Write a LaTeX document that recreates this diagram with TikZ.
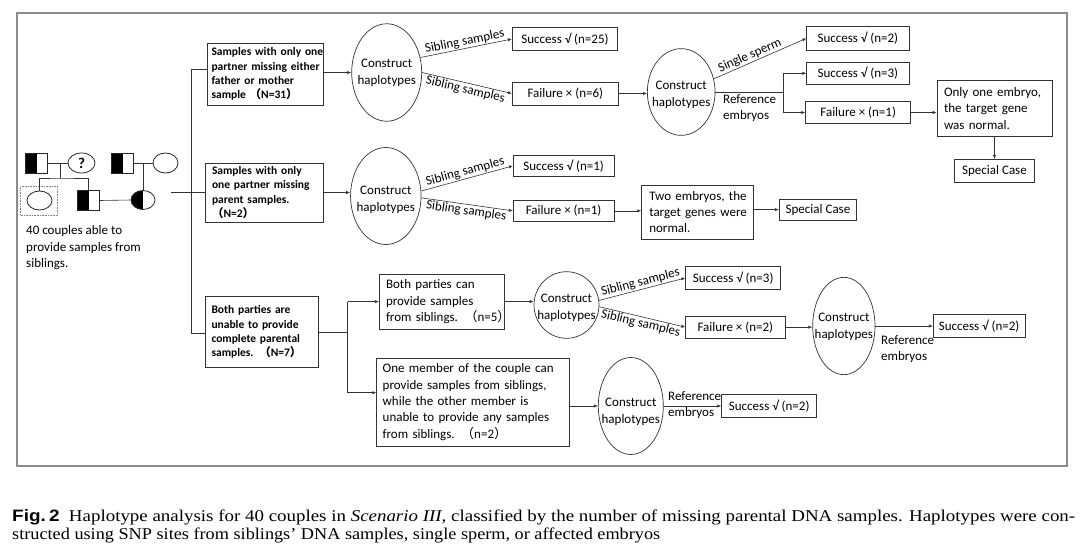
\documentclass[tikz,border=0pt]{standalone}
\usepackage{fontspec}
\usepackage{graphicx}
\setmainfont{Carlito}
\newfontfamily\cjk{Noto Sans CJK SC}
\newfontfamily\capfont{Liberation Serif}
\newfontfamily\capsans{Liberation Sans}
\usetikzlibrary{shapes.geometric,arrows.meta,calc}
\newcommand{\lp}{{\cjk （}}
\newcommand{\rp}{{\cjk ）}}
\begin{document}
\begin{tikzpicture}[x=1pt,y=-1pt,
  ln/.style={line width=0.6pt, draw=black!80},
  arr/.style={ln, -{Latex[length=4pt,width=3.2pt]}},
  bx/.style 2 args={draw=black!80, line width=0.7pt, rectangle, minimum width=#1, minimum height=#2, inner sep=0pt, font=\fontsize{13}{16.3}\selectfont},
  bb/.style 2 args={draw=black!80, line width=0.7pt, rectangle, minimum width=#1, minimum height=#2, inner sep=0pt, font=\fontsize{11.5}{14.2}\selectfont\bfseries},
  tw/.style={align=left, text width=#1},
  el/.style 2 args={draw=black!80, line width=0.7pt, ellipse, minimum width=#1, minimum height=#2, inner sep=0pt},
  etx/.style={align=center, inner sep=0pt, font=\fontsize{13}{16.7}\selectfont},
  lab/.style={font=\fontsize{13}{16.5}\selectfont, inner sep=1pt},
  sq/.style={draw=black!85, line width=0.8pt, rectangle, minimum width=22, minimum height=20, inner sep=0pt,
     path picture={\fill[black] (path picture bounding box.south west) rectangle (path picture bounding box.north);}},
  ci/.style={draw=black!85, line width=0.8pt, ellipse, minimum width=25, minimum height=20, inner sep=0pt},
  hci/.style={ci, path picture={\fill[black] (path picture bounding box.south west) rectangle (path picture bounding box.north);}}
]
\useasboundingbox (0,0) rectangle (1080,552);
\fill[white] (0,0) rectangle (1080,552);

% frame
\draw[draw=black!45, line width=1.4pt] (17,13) rectangle (1067,466);

% ---------------- pedigree
\node[sq] (s1) at (36.5,163) {};
\node[ci, minimum width=27] (q) at (81.5,163) {\fontsize{15}{15}\selectfont\bfseries ?};
\node[sq] (s3) at (122.5,163) {};
\node[ci] (c4) at (165.5,163) {};
\node[ci, minimum height=19] (ch) at (39.5,200.5) {};
\node[sq] (s2) at (88.5,200.5) {};
\node[hci, minimum width=24, minimum height=19] (hc) at (143,200) {};
\node[draw=black!50, densely dotted, line width=0.6pt, minimum width=37, minimum height=28.3, inner sep=0pt] (dr) at (39.2,200.85) {};
\draw[ln] (s1.east) -- (q.west);
\coordinate (m1) at (60,163);
\coordinate (j1) at (60,178);
\draw[ln] (m1) -- (j1);
\draw[ln] (ch.north) |- (j1) -| (s2.north);
\draw[ln] (s3.east) -- (c4.west);
\coordinate (m2) at (143,163);
\draw[ln] (m2) -- (hc.north);
\draw[ln] (s2.east) -- (hc.west);
\node[anchor=west, align=left, inner sep=0pt, font=\fontsize{13}{16.5}\selectfont] (ptext) at (26,247.7)
  {40 couples able to\\provide samples from\\siblings.};

% ---------------- category boxes
\node[bb={116}{62}, tw=108] (box1) at (265.5,74)
  {\mbox{Samples with only one}\\\mbox{partner missing either}\\\mbox{father or mother}\\\mbox{sample \lp N=31\rp}};
\node[bb={118.5}{59}, tw=104.5] (box2) at (264.25,192.5)
  {\mbox{Samples with only}\\\mbox{one partner missing}\\\mbox{parent samples.}\\\mbox{\lp N=2\rp}};
\node[bb={113.5}{70.6}, tw=100.5] (box3) at (261.75,332)
  {\mbox{Both parties are}\\\mbox{unable to provide}\\\mbox{complete parental}\\\mbox{samples. \lp N=7\rp}};

% trunk
\coordinate (tt) at (191,69);
\coordinate (tb) at (191,333);
\coordinate (tm) at (171,192.5);
\draw[ln] (tt -| box1.west) -- (tt) -- (tb) -- (tb -| box3.west);
\draw[ln] (tm) -- (tm -| box2.west);

% ---------------- row 1
\node[el={70}{97.5}] (e1) at (386.7,72.5) {};
\node[etx] (e1t) at ($(e1)+(0,0.5)$) {Construct\\haplotypes};
\draw[arr] (box1.east |- e1.west) -- (e1.west);
\node[bx={105.4}{23.4}] (s25) at (565,39) {Success √ (n=25)};
\node[bx={106}{22.7}] (f6) at (565.3,93.5) {Failure × (n=6)};
\draw[arr] (e1.24) -- node[lab, sloped, above] {Sibling samples} (s25.west);
\draw[arr] (e1.east) -- node[lab, sloped, below] {Sibling samples} (f6.west);
\node[el={67.7}{86.7}] (e2) at (681.2,92) {};
\node[etx] (e2t) at ($(e2)+(0,3)$) {Construct\\haplotypes};
\draw[arr] (f6.east) -- (f6.east -| e2.west);
\node[bx={102.3}{23.3}] (sn2) at (857.85,38.35) {Success √ (n=2)};
\node[bx={102.3}{22}] (sn3) at (857.85,73.3) {Success √ (n=3)};
\node[bx={105}{22.6}] (fn1) at (858.2,112.5) {Failure × (n=1)};
\draw[arr] (e2.22) -- node[lab, sloped, above, pos=0.42] {Single sperm} (sn2.west);
\coordinate (b2) at (783.3,92);
\draw[ln] (e2.east) -- (b2);
\draw[ln] (b2 |- sn3.west) -- (b2 |- fn1.west);
\draw[arr] (b2 |- sn3.west) -- (sn3.west);
\draw[arr] (b2 |- fn1.west) -- (fn1.west);
\node[lab, anchor=west, align=left] (r1) at (722,108) {Reference\\embryos};
\node[bx={115}{55.3}, tw=101] (oe) at (994.5,108.35) {\mbox{Only one embryo,}\\\mbox{the target gene}\\\mbox{was normal.}};
\draw[arr] (fn1.east) -- (fn1.east -| oe.west);
\node[bx={80}{23.4}] (sc1) at (994.5,171) {Special Case};
\draw[arr] (oe.south) -- (sc1.north);

% ---------------- row 2
\node[el={70.5}{97}] (e3) at (385.8,196) {};
\node[etx] (e3t) at ($(e3)+(0,4)$) {Construct\\haplotypes};
\draw[arr] (box2.east) -- (box2.east -| e3.west);
\node[bx={100.7}{21.7}] (sn1) at (563.65,165.85) {Success √ (n=1)};
\node[bx={100.7}{21.7}] (fb1) at (563.65,210.85) {Failure × (n=1)};
\draw[arr] (e3.8) -- node[lab, sloped, above] {Sibling samples} (sn1.west);
\draw[arr] (e3.-3) -- node[lab, sloped, below] {Sibling samples} (fb1.west);
\node[bx={111.6}{54.3}, tw=96.4] (te) at (697.5,212.15) {\mbox{Two embryos, the}\\\mbox{target genes were}\\\mbox{normal.}};
\draw[arr] (fb1.east) -- (fb1.east -| te.west);
\node[bx={77.4}{20.7}] (sc2) at (818,209.65) {Special Case};
\draw[arr] (sc2.west -| te.east) -- (sc2.west);

% ---------------- row 3
\node[bx={125}{55.3}, tw=111.6] (box4) at (441.8,301.65) {\mbox{Both parties can}\\\mbox{provide samples}\\\mbox{from siblings. \lp n=5\rp}};
\node[bx={192.6}{87.7}, tw=180.6] (box5) at (473,402.15)
  {\mbox{One member of the couple can}\\\mbox{provide samples from siblings,}\\\mbox{while the other member is}\\\mbox{unable to provide any samples}\\\mbox{from siblings. \lp n=2\rp}};
\coordinate (b5a) at (347.7,392.7);
\draw[ln] (box3.east) -- (box3.east -| b5a);
\draw[ln] (box4.west -| b5a) -- (b5a);
\draw[arr] (box4.west -| b5a) -- (box4.west);
\draw[arr] (b5a) -- (b5a -| box5.west);

\node[el={65}{66.6}] (e4) at (566.5,305) {};
\node[etx] (e4t) at ($(e4)+(0,3)$) {Construct\\haplotypes};
\draw[arr] (box4.east) -- (box4.east -| e4.west);
\node[bx={95}{22.6}] (sb3) at (733.2,278) {Success √ (n=3)};
\node[bx={99.3}{22.3}] (f2) at (735.35,327.15) {Failure × (n=2)};
\draw[arr] (e4.8) -- node[lab, sloped, above] {Sibling samples} (sb3.west);
\draw[arr] (e4.-3) -- node[lab, sloped, below] {Sibling samples} (f2.west);
\node[el={62.3}{97.3}] (e5) at (843.85,326) {};
\node[etx] (e5t) at ($(e5)+(0,0.5)$) {Construct\\haplotypes};
\draw[arr] (f2.east) -- (f2.east -| e5.west);
\node[bx={91.7}{22.6}] (sb2) at (979.15,326) {Success √ (n=2)};
\draw[arr] (e5.east) -- (e5.east -| sb2.west);
\node[lab, anchor=west, align=left] (r3) at (880,349) {Reference\\embryos};

\node[el={65}{97}] (e6) at (630.8,406) {};
\node[etx] (e6t) at ($(e6)+(0,6)$) {Construct\\haplotypes};
\draw[arr] (e6.west -| box5.east) -- (e6.west);
\node[bx={95}{22.4}] (sc3) at (769.2,406) {Success √ (n=2)};
\draw[arr] (e6.east) -- (e6.east -| sc3.west);
\node[lab, anchor=west, align=left] (r6) at (667,405) {Reference\\embryos};

% ---------------- caption
\node[anchor=base west, inner sep=0pt] (cap1) at (12,521)
  {\resizebox{1063pt}{\height}{\capfont\fontsize{16.5}{18}\selectfont{\capsans\bfseries Fig.\,2}\hspace{0.5em}Haplotype analysis for 40 couples in \textit{Scenario III}, classified by the number of missing parental DNA samples. Haplotypes were con-}};
\node[anchor=base west, inner sep=0pt] (cap2) at (12,539.5)
  {\resizebox{648pt}{\height}{\capfont\fontsize{16.5}{18}\selectfont structed using SNP sites from siblings’ DNA samples, single sperm, or affected embryos}};
\end{tikzpicture}
\end{document}
